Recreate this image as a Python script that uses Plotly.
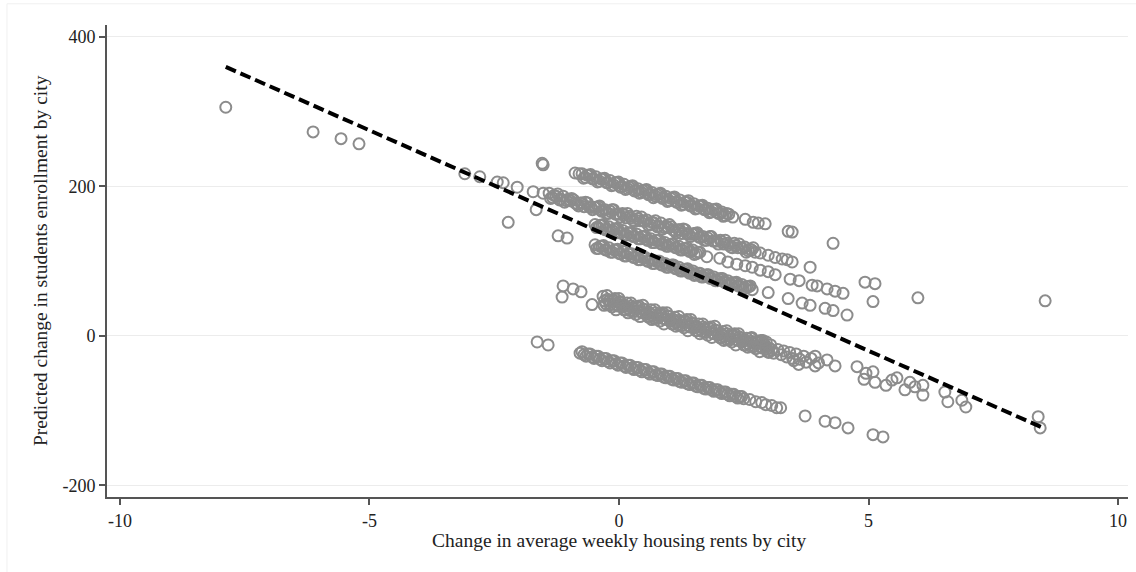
import plotly.graph_objects as go

# Predicted enrollment change vs. rent change, one group of points per city
city1_x = [-1.54, -1.52, -0.88, -0.80,
           -0.74, -0.67, -0.60, -0.53, -0.46, -0.39, -0.32, -0.25, -0.18, -0.11,
           -0.04, 0.03, 0.10, 0.17, 0.24, 0.31, 0.38, 0.45, 0.52, 0.59,
           0.66, 0.73, 0.80, 0.87, 0.94, 1.01, 1.08, 1.15, 1.22, 1.29,
           1.36, 1.43, 1.50, 1.57, 1.64, 1.71, 1.78, 1.85, 1.92, 1.99,
           2.06, 2.13, 2.20,
           2.28, 2.53, 2.69, 2.79, 2.93, 3.39, 3.47, 4.29, 8.54]
city1_y = [231, 229, 218, 217,
           217, 212, 215, 210, 213, 207, 210, 205, 208, 202,
           205, 199, 203, 197, 200, 194, 197, 192, 195, 189,
           192, 187, 190, 184, 187, 181, 185, 179, 182, 176,
           179, 174, 177, 171, 174, 169, 171, 166, 169, 164,
           166, 161, 163,
           159, 156, 152, 151, 150, 140, 139, 124, 47]
city1_x_b = [-0.71, -0.64, -0.57, -0.50, -0.43, -0.36, -0.29, -0.22, -0.15, -0.08,
             -0.01, 0.06, 0.13, 0.20, 0.27, 0.34, 0.41, 0.48, 0.55, 0.62,
             0.69, 0.76, 0.83, 0.90, 0.97, 1.04, 1.11, 1.18, 1.25, 1.32,
             1.39, 1.46, 1.53, 1.60, 1.67, 1.74, 1.81, 1.88, 1.95, 2.02,
             2.09, 2.16]
city1_y_b = [211, 215, 216, 210, 206, 210, 211, 205, 201, 205,
             206, 200, 196, 199, 201, 195, 191, 194, 196, 190,
             185, 189, 191, 185, 180, 184, 186, 179, 175, 179,
             181, 174, 170, 174, 175, 169, 165, 169, 170, 164,
             160, 164]

city2_x = [-7.88, -6.13, -5.57, -5.21, -3.09, -2.79, -2.44, -2.32, -2.04, -1.72, -1.52,
           -1.40, -1.33, -1.26, -1.19, -1.12, -1.05, -0.98, -0.91, -0.84, -0.77,
           -0.70, -0.63, -0.56, -0.49, -0.42, -0.35, -0.28, -0.21, -0.14, -0.07,
           0.00, 0.07, 0.14, 0.21, 0.28, 0.35, 0.42, 0.49, 0.56, 0.63,
           0.70, 0.77, 0.84, 0.91, 0.98, 1.05, 1.12, 1.19, 1.26, 1.33,
           1.40, 1.47, 1.54, 1.61, 1.68, 1.75, 1.82, 1.89, 1.96, 2.03,
           2.10, 2.17, 2.24, 2.31, 2.38, 2.45, 2.52, 2.59, 2.66, 2.73,
           2.83, 2.99, 3.13, 3.27, 3.37, 3.47, 3.83, 4.93, 5.13, 5.99]
city2_y = [306, 273, 264, 257, 217, 213, 206, 205, 199, 193, 191,
           191, 185, 187, 182, 187, 181, 181, 182, 176, 178,
           173, 178, 172, 172, 173, 167, 169, 164, 169, 163,
           163, 164, 158, 160, 155, 160, 154, 154, 155, 149,
           151, 146, 151, 145, 145, 146, 140, 142, 137, 142,
           136, 136, 137, 132, 133, 128, 133, 127, 127, 128,
           123, 124, 119, 124, 118, 118, 119, 114, 115, 112,
           111, 108, 105, 103, 102, 99, 92, 72, 70, 51]
city2_x_b = [-1.37, -1.30, -1.23, -1.16, -1.09, -1.02, -0.95, -0.88, -0.81, -0.74,
             -0.67, -0.60, -0.53, -0.46, -0.39, -0.32, -0.25, -0.18, -0.11, -0.04,
             0.03, 0.10, 0.17, 0.24, 0.31, 0.38, 0.45, 0.52, 0.59, 0.66,
             0.73, 0.80, 0.87, 0.94, 1.01, 1.08, 1.15, 1.22, 1.29, 1.36,
             1.43, 1.50, 1.57, 1.64, 1.71, 1.78, 1.85, 1.92, 1.99, 2.06,
             2.13, 2.20, 2.27, 2.34, 2.41, 2.48, 2.55, 2.62, 2.69]
city2_y_b = [184, 188, 190, 183, 179, 183, 184, 178, 174, 178,
             179, 173, 169, 172, 174, 168, 164, 167, 169, 163,
             159, 162, 164, 158, 153, 157, 159, 153, 148, 152,
             154, 147, 143, 147, 149, 142, 138, 142, 143, 137,
             133, 137, 138, 132, 128, 131, 133, 127, 123, 126,
             128, 122, 118, 121, 123, 117, 112, 116, 118]

city3_x = [-1.66,
           -0.48, -0.41, -0.34, -0.27, -0.20, -0.13, -0.06, 0.01, 0.08, 0.15,
           0.22, 0.29, 0.36, 0.43, 0.50, 0.57, 0.64, 0.71, 0.78, 0.85,
           0.92, 0.99, 1.06, 1.13, 1.20, 1.27, 1.34, 1.41, 1.48, 1.55, 1.62,
           1.76, 2.02, 2.18, 2.36, 2.53, 2.67, 2.83, 2.99, 3.13,
           3.43, 3.61, 3.87, 3.97, 4.17, 4.33, 4.49, 5.09]
city3_y = [169,
           149, 145, 148, 142, 146, 141, 143, 138, 141, 135,
           138, 133, 136, 130, 133, 128, 130, 125, 128, 123,
           125, 120, 123, 118, 120, 115, 117, 113, 115, 110, 112,
           106, 104, 99, 96, 94, 92, 88, 86, 82,
           76, 74, 68, 67, 63, 60, 57, 46]
city3_x_b = [-0.45, -0.38, -0.31, -0.24, -0.17, -0.10, -0.03, 0.04, 0.11, 0.18,
             0.25, 0.32, 0.39, 0.46, 0.53, 0.60, 0.67, 0.74, 0.81, 0.88,
             0.95, 1.02, 1.09, 1.16, 1.23, 1.30, 1.37, 1.44, 1.51, 1.58]
city3_y_b = [145, 148, 149, 143, 140, 143, 144, 138, 135, 138,
             138, 133, 130, 133, 133, 128, 125, 128, 128, 123,
             120, 122, 123, 118, 115, 117, 118, 113, 109, 112]

city4_x = [-2.22, -1.22, -1.04,
           -0.48, -0.41, -0.34, -0.27, -0.20, -0.13, -0.06, 0.01, 0.08, 0.15,
           0.22, 0.29, 0.36, 0.43, 0.50, 0.57, 0.64, 0.71, 0.78, 0.85,
           0.92, 0.99, 1.06, 1.13, 1.20, 1.27, 1.34, 1.41, 1.48, 1.55,
           1.62, 1.69, 1.76, 1.83, 1.90, 1.97, 2.04, 2.11, 2.18, 2.25,
           2.32, 2.39, 2.46, 2.53, 2.60, 2.67,
           2.99, 3.39, 3.67, 3.83, 4.13, 4.29, 4.57]
city4_y = [152, 134, 131,
           122, 117, 120, 115, 118, 112, 115, 110, 113, 107,
           110, 105, 108, 102, 105, 100, 102, 97, 100, 95,
           97, 92, 95, 90, 92, 87, 89, 84, 87, 82,
           84, 79, 82, 77, 79, 74, 77, 72, 74, 69,
           71, 67, 69, 64, 66, 62,
           58, 50, 44, 41, 37, 34, 28]
city4_x_b = [-0.45, -0.38, -0.31, -0.24, -0.17, -0.10, -0.03, 0.04, 0.11, 0.18,
             0.25, 0.32, 0.39, 0.46, 0.53, 0.60, 0.67, 0.74, 0.81, 0.88,
             0.95, 1.02, 1.09, 1.16, 1.23, 1.30, 1.37, 1.44, 1.51, 1.58,
             1.65, 1.72, 1.79, 1.86, 1.93, 2.00, 2.07, 2.14, 2.21, 2.28,
             2.35, 2.42, 2.49, 2.56, 2.63]
city4_y_b = [117, 120, 121, 115, 112, 115, 116, 110, 107, 110,
             110, 105, 102, 105, 105, 100, 97, 100, 100, 95,
             92, 94, 95, 90, 87, 89, 90, 85, 81, 84,
             79, 81, 82, 77, 74, 76, 77, 72, 69, 71,
             72, 67, 63, 66, 67]

city5_x = [-1.14, -1.12, -0.92, -0.76, -0.54,
           -0.32, -0.26, -0.20, -0.14, -0.08, -0.02, 0.04, 0.10, 0.16, 0.22,
           0.28, 0.34, 0.40, 0.46, 0.52, 0.58, 0.64, 0.70, 0.76, 0.82,
           0.88, 0.94, 1.00, 1.06, 1.12, 1.18, 1.24, 1.30, 1.36, 1.42,
           1.48, 1.54, 1.60, 1.66, 1.72, 1.78, 1.84, 1.90, 1.96, 2.02,
           2.08, 2.14, 2.20, 2.26, 2.32, 2.38, 2.44, 2.50, 2.56, 2.62,
           2.68, 2.74, 2.80, 2.86, 2.92, 2.98, 3.04, 3.10,
           2.66, 2.84, 2.95,
           3.18, 3.25, 3.30, 3.36, 3.42, 3.48, 3.50, 3.55, 3.60, 3.62,
           3.70, 3.75, 3.85, 3.93, 3.93, 4.00, 4.17, 4.33, 4.77, 4.91,
           4.95, 5.09, 5.13, 5.35, 5.47, 5.57, 5.73, 5.83, 5.93, 6.09,
           6.09, 6.53, 6.59, 6.87, 6.95, 8.40, 8.44]
city5_y = [52, 67, 63, 59, 42,
           53, 43, 47, 39, 50, 40, 44, 35, 44, 34,
           38, 29, 40, 31, 35, 26, 35, 24, 28, 20,
           31, 22, 26, 16, 25, 15, 19, 11, 22, 12,
           16, 7, 16, 6, 10, 1, 12, 3, 7, -2,
           6, -4, 0, -8, 3, -6, -3, -12, -3, -13,
           -9, -17, -7, -16, -12, -21, -12, -23,
           -2, -6, -8,
           -18, -25, -20, -28, -22, -30, -33, -24, -38, -31,
           -27, -35, -30, -27, -40, -36, -32, -40, -41, -58,
           -50, -48, -62, -66, -59, -56, -72, -62, -68, -66,
           -79, -75, -88, -86, -95, -108, -123]
city5_x_b = [-0.29, -0.23, -0.17, -0.11, -0.05, 0.01, 0.07, 0.13, 0.19, 0.25,
             0.31, 0.37, 0.43, 0.49, 0.55, 0.61, 0.67, 0.73, 0.79, 0.85,
             0.91, 0.97, 1.03, 1.09, 1.15, 1.21, 1.27, 1.33, 1.39, 1.45,
             1.51, 1.57, 1.63, 1.69, 1.75, 1.81, 1.87, 1.93, 1.99, 2.05,
             2.11, 2.17, 2.23, 2.29, 2.35, 2.41, 2.47, 2.53, 2.59, 2.65,
             2.71, 2.77, 2.83, 2.89, 2.95, 3.01, 3.07]
city5_y_b = [47, 49, 42, 47, 42, 46, 39, 40, 37, 40,
             33, 38, 33, 36, 29, 31, 28, 31, 24, 28,
             23, 27, 20, 22, 19, 21, 14, 19, 14, 18,
             11, 12, 9, 12, 5, 10, 4, 8, 1, 3,
             0, 3, -5, 0, -5, -1, -8, -6, -10, -7,
             -14, -9, -14, -10, -18, -16, -19]
city5_x_c = [-0.30, -0.24, -0.18, -0.12, -0.06, 0.00, 0.06, 0.12, 0.18, 0.24,
             0.30, 0.36, 0.42, 0.48, 0.54, 0.60, 0.66, 0.72, 0.78, 0.84,
             0.90, 0.96, 1.02, 1.08, 1.14, 1.20, 1.26, 1.32, 1.38, 1.44,
             1.50, 1.56, 1.62, 1.68, 1.74, 1.80, 1.86, 1.92, 1.98, 2.04,
             2.10, 2.16, 2.22, 2.28, 2.34, 2.40, 2.46, 2.52, 2.58, 2.64,
             2.70, 2.76, 2.82, 2.88, 2.94, 3.00]
city5_y_c = [41, 54, 42, 48, 35, 50, 41, 35, 31, 44,
             33, 39, 26, 41, 31, 25, 22, 35, 24, 30,
             16, 31, 22, 16, 13, 26, 14, 20, 7, 22,
             13, 7, 3, 16, 5, 11, -2, 13, 3, -3,
             -6, 7, -4, 2, -12, 3, -6, -12, -15, -3,
             -14, -8, -21, -6, -15, -22]

city6_x = [-1.64, -1.42,
           -0.78, -0.70, -0.62, -0.54, -0.46, -0.38, -0.30, -0.22, -0.14, -0.06,
           0.02, 0.10, 0.18, 0.26, 0.34, 0.42, 0.50, 0.58, 0.66, 0.74,
           0.82, 0.90, 0.98, 1.06, 1.14, 1.22, 1.30, 1.38, 1.46, 1.54,
           1.62, 1.70, 1.78, 1.86, 1.94, 2.02, 2.10, 2.18, 2.26, 2.34,
           2.42, 2.50, 2.62, 2.74, 2.86, 2.94, 3.06, 3.16, 3.24,
           3.73, 4.13, 4.33, 4.59, 5.09, 5.29]
city6_y = [-8, -12,
           -23, -25, -24, -28, -27, -31, -30, -34, -33, -37,
           -36, -40, -39, -43, -42, -46, -45, -49, -48, -52,
           -51, -55, -54, -58, -57, -61, -60, -64, -63, -67,
           -66, -70, -69, -72, -72, -75, -75, -78, -78, -81,
           -81, -84, -85, -88, -89, -92, -93, -96, -96,
           -107, -114, -116, -123, -132, -135]
city6_x_b = [-0.74, -0.66, -0.58, -0.50, -0.42, -0.34, -0.26, -0.18, -0.10, -0.02,
             0.06, 0.14, 0.22, 0.30, 0.38, 0.46, 0.54, 0.62, 0.70, 0.78,
             0.86, 0.94, 1.02, 1.10, 1.18, 1.26, 1.34, 1.42, 1.50, 1.58,
             1.66, 1.74, 1.82, 1.90, 1.98, 2.06, 2.14, 2.22, 2.30, 2.38,
             2.46]
city6_y_b = [-21, -27, -24, -30, -27, -33, -30, -36, -33, -39,
             -36, -42, -39, -45, -42, -48, -45, -51, -48, -53,
             -51, -56, -54, -59, -57, -62, -60, -65, -63, -68,
             -66, -71, -69, -74, -72, -77, -75, -80, -78, -83,
             -81]

# Linear fit across all cities (end points of the fitted line)
fit_x = [-7.88, 8.50]
fit_y = [360, -123]

x_ticks = [-10, -5, 0, 5, 10]
x_tick_text = ["-10", "-5", "0", "5", "10"]
y_ticks = [-200, 0, 200, 400]
y_tick_text = ["-200", "0", "200", "400"]

x_title = "Change in average weekly housing rents by city"
y_title = "Predicted change in students enrollment by city"

SERIF = "Liberation Serif, Times New Roman, serif"
POINT_GREY = "#8c8c8c"
AXIS_GREY = "#555555"
TEXT = "#222222"

groups = [
    (city1_x + city1_x_b, city1_y + city1_y_b),
    (city2_x + city2_x_b, city2_y + city2_y_b),
    (city3_x + city3_x_b, city3_y + city3_y_b),
    (city4_x + city4_x_b, city4_y + city4_y_b),
    (city5_x + city5_x_b + city5_x_c, city5_y + city5_y_b + city5_y_c),
    (city6_x + city6_x_b, city6_y + city6_y_b),
]

fig = go.Figure()

for xs, ys in groups:
    fig.add_trace(go.Scatter(
        x=xs, y=ys, mode="markers", showlegend=False, hoverinfo="skip",
        marker=dict(symbol="circle-open", size=11,
                    color=POINT_GREY, line=dict(width=2, color=POINT_GREY)),
    ))

fig.add_trace(go.Scatter(
    x=fit_x, y=fit_y, mode="lines", showlegend=False, hoverinfo="skip",
    line=dict(color="black", width=4, dash="11px,5px"),
))

axis_common = dict(
    zeroline=False,
    showline=True, linecolor=AXIS_GREY, linewidth=2,
    ticks="outside", ticklen=6, tickwidth=1.5, tickcolor=AXIS_GREY,
    tickfont=dict(family=SERIF, size=18, color=TEXT),
)

fig.update_layout(
    width=1136, height=572,
    margin=dict(l=107, r=8, t=25, b=75),
    paper_bgcolor="white", plot_bgcolor="white",
    font=dict(family=SERIF, size=18, color=TEXT),
    xaxis=dict(range=[-10.26, 10.20], tickvals=x_ticks, ticktext=x_tick_text,
               showgrid=False, **axis_common),
    yaxis=dict(range=[-215.4, 416], tickvals=y_ticks, ticktext=y_tick_text,
               showgrid=True, gridcolor="#ececec", gridwidth=1, **axis_common),
    annotations=[
        dict(text=x_title, xref="paper", yref="paper", x=0.5015, y=-0.093,
             xanchor="center", yanchor="middle", showarrow=False,
             font=dict(family=SERIF, size=19.5, color=TEXT)),
        dict(text=y_title, xref="paper", yref="paper", x=-0.0656, y=0.5,
             xanchor="center", yanchor="middle", showarrow=False, textangle=-90,
             font=dict(family=SERIF, size=19.5, color=TEXT)),
    ],
    shapes=[
        dict(type="rect", xref="paper", yref="paper",
             x0=-0.098, x1=1.02, y0=-0.2, y1=1.045,
             line=dict(color="#f0f0f0", width=1), layer="below"),
    ],
)

fig.write_html("out.html")
